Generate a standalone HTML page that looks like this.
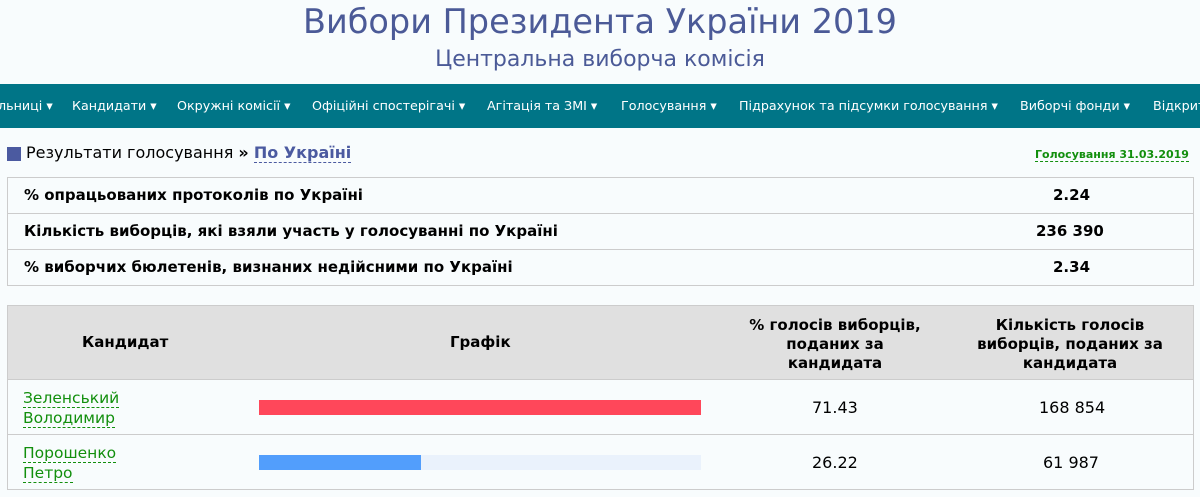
<!DOCTYPE html>
<html><head><meta charset="utf-8"><style>
body{margin:0;width:1200px;height:497px;background:#f8fcfd;font-family:"DejaVu Sans","Liberation Sans",sans-serif;position:relative;overflow:hidden;color:#000}
.a{position:absolute;white-space:nowrap}
.t1{left:0;width:1200px;text-align:center;top:2px;font-size:33.5px;color:#4b5a97}
.t2{left:0;width:1200px;text-align:center;top:47px;font-size:22px;color:#4b5a97}
.nav{left:0;top:84px;width:1200px;height:44px;background:#007587}
.nav span{position:absolute;top:14px;color:#fff;font-size:12.7px}
.tb{border:1px solid #ccc;background:#f8fcfd}
.row{border-top:1px solid #ccc}
.b{font-weight:bold;font-size:15px}
.g{color:#128f0d;font-size:15.5px;border-bottom:1px dashed #128f0d;line-height:18px}
</style></head><body>
<div class="a t1">Вибори Президента України 2019</div>
<div class="a t2">Центральна виборча комісія</div>
<div class="a nav">
<span style="left:-2px">льниці ▾</span><span style="left:72px">Кандидати ▾</span><span style="left:177px">Окружні комісії ▾</span><span style="left:312px">Офіційні спостерігачі ▾</span><span style="left:487px">Агітація та ЗМІ ▾</span><span style="left:621px">Голосування ▾</span><span style="left:739px">Підрахунок та підсумки голосування ▾</span><span style="left:1020px">Виборчі фонди ▾</span><span style="left:1153px">Відкрит</span>
</div>
<div class="a" style="left:7px;top:147px;width:14px;height:14px;background:#4b5aa0"></div>
<div class="a" style="left:26px;top:143px;font-size:16px">Результати голосування <b>»</b> <span style="color:#4b5aa0;font-weight:bold;border-bottom:1px dashed #4b5aa0">По Україні</span></div>
<div class="a" style="left:1035px;top:148px;font-size:11px;font-weight:bold;color:#128f0d;border-bottom:1px dashed #128f0d">Голосування 31.03.2019</div>
<div class="a tb" style="left:7px;top:177px;width:1185px;height:107px"></div>
<div class="a row" style="left:7px;top:213px;width:1186px"></div>
<div class="a row" style="left:7px;top:249px;width:1186px"></div>
<div class="a b" style="left:24px;top:186px">% опрацьованих протоколів по Україні</div>
<div class="a b" style="left:24px;top:222px">Кількість виборців, які взяли участь у голосуванні по Україні</div>
<div class="a b" style="left:24px;top:258px">% виборчих бюлетенів, визнаних недійсними по Україні</div>
<div class="a b" style="left:1053px;top:186px">2.24</div>
<div class="a b" style="left:1036px;top:222px">236 390</div>
<div class="a b" style="left:1053px;top:258px">2.34</div>
<div class="a tb" style="left:7px;top:305px;width:1185px;height:183px"></div>
<div class="a" style="left:8px;top:306px;width:1185px;height:73px;background:#e0e0e0;border-bottom:1px solid #ccc"></div>
<div class="a row" style="left:7px;top:434px;width:1186px"></div>
<div class="a b" style="left:82px;top:333px">Кандидат</div>
<div class="a b" style="left:450px;top:333px">Графік</div>
<div class="a b" style="left:735px;top:316px;width:200px;text-align:center;line-height:19px">% голосів виборців,<br>поданих за<br>кандидата</div>
<div class="a b" style="left:960px;top:316px;width:220px;text-align:center;white-space:normal;line-height:19px">Кількість голосів виборців, поданих за кандидата</div>
<div class="a" style="left:23px;top:388px;line-height:20px"><span class="g">Зеленський</span><br><span class="g">Володимир</span></div>
<div class="a" style="left:23px;top:443px;line-height:20px"><span class="g">Порошенко</span><br><span class="g">Петро</span></div>
<div class="a" style="left:259px;top:400px;width:442px;height:15px;background:#ff475a"></div>
<div class="a" style="left:259px;top:455px;width:442px;height:15px;background:#eaf2fc"></div>
<div class="a" style="left:259px;top:455px;width:162px;height:15px;background:#529efc"></div>
<div class="a" style="left:812px;top:398px;font-size:16px">71.43</div>
<div class="a" style="left:1039px;top:398px;font-size:16px">168 854</div>
<div class="a" style="left:812px;top:453px;font-size:16px">26.22</div>
<div class="a" style="left:1043px;top:453px;font-size:16px">61 987</div>
</body></html>
